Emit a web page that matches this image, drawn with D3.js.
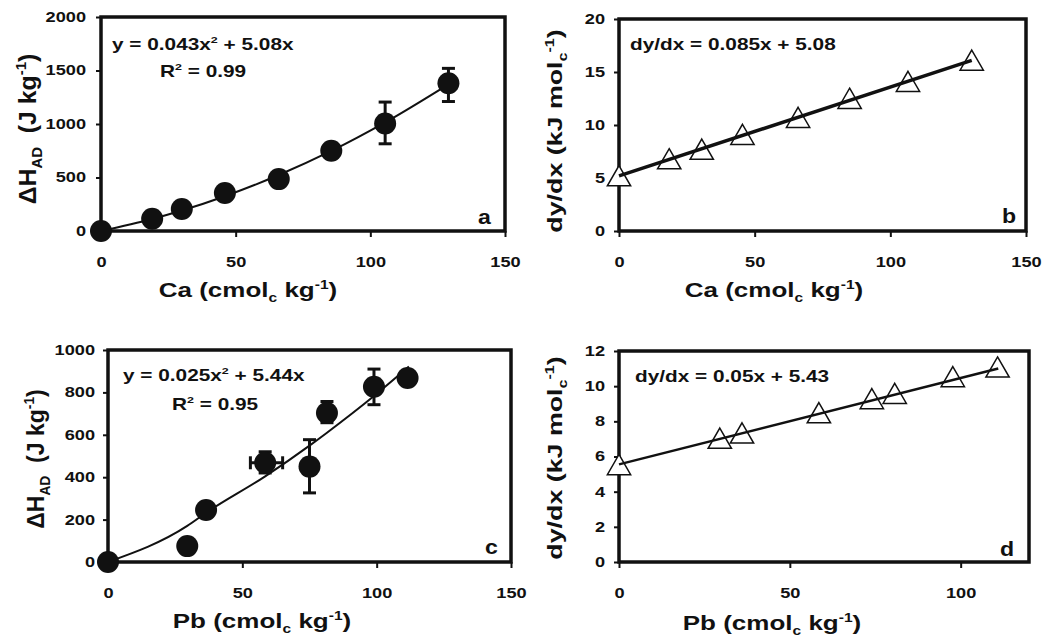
<!DOCTYPE html>
<html><head><meta charset="utf-8">
<script src="https://cdn.jsdelivr.net/npm/d3@7"></script>
<style>body{margin:0;background:#fff}svg{display:block}text{font-family:"Liberation Sans",Arial,sans-serif;font-weight:bold;fill:#111}</style>
</head><body><svg id="c" width="1044" height="642"></svg>
<script>
// Panel a: Ca, Delta H_AD
const caX = [0, 19, 30, 46, 66, 85.5, 105.5, 129];
const caH = [0, 115, 205, 355, 485, 750, 1005, 1380];
const caHErrLo = [null, null, null, null, null, null, 815, 1210];
const caHErrHi = [null, null, null, null, null, null, 1205, 1520];
const caFitX = [0, 19, 30, 46, 66, 85.5, 105.5, 129];
const caFitY = [0, 112, 191, 325, 523, 748, 1015, 1371];
// Panel b: Ca, dy/dx
const caDX = [0, 18.5, 30.5, 45.5, 66, 85, 106.5, 130];
const caD = [4.9, 6.5, 7.4, 8.8, 10.4, 12.2, 13.8, 15.8];
const caLineX = [0, 130];
const caLineY = [5.2, 16.1];
// Panel c: Pb, Delta H_AD
const pbX = [0, 29.5, 36.5, 58.5, 75, 81.5, 99, 111.5];
const pbH = [0, 75, 245, 468, 450, 703, 827, 868];
const pbHErrLo = [null, null, null, 420, 326, 657, 742, null];
const pbHErrHi = [null, null, null, 520, 577, 757, 910, null];
const pbXErrLo = [null, null, null, 53, null, null, null, null];
const pbXErrHi = [null, null, null, 65, null, null, null, null];
const pbFitX = [0, 29.5, 36.5, 58.5, 75, 81.5, 99, 112];
const pbFitY = [0, 170, 232, 404, 549, 610, 783, 922];
// Panel d: Pb, dy/dx
const pbDX = [0, 29.5, 36, 58.5, 74, 80.7, 97.7, 110.8];
const pbD = [5.35, 6.85, 7.15, 8.3, 9.1, 9.4, 10.35, 10.9];
const pbLineX = [0, 111];
const pbLineY = [5.55, 11.0];
// tick labels
const ticksX150 = [0, 50, 100, 150];
const ticksX120 = [0, 50, 100];
const ticksYa = [0, 500, 1000, 1500, 2000];
const ticksYb = [0, 5, 10, 15, 20];
const ticksYc = [0, 200, 400, 600, 800, 1000];
const ticksYd = [0, 2, 4, 6, 8, 10, 12];

const SX = 1.3; // horizontal stretch of the lettering in the reference
const svg = d3.select("#c");

function panel(o){
  const x = d3.scaleLinear().domain(o.xd).range([o.x0, o.x1]);
  const y = d3.scaleLinear().domain(o.yd).range([o.y0, o.y1]);
  const g = svg.append("g");
  const ax = g.append("g").attr("transform",`translate(0,${o.y0})`)
    .call(d3.axisBottom(x).tickValues(o.xt).tickSize(6).tickPadding(20).tickFormat(d3.format("d")));
  const ay = g.append("g").attr("transform",`translate(${o.x0},0)`)
    .call(d3.axisLeft(y).tickValues(o.yt).tickSize(5).tickFormat(d3.format("d")));
  [ax, ay].forEach(a=>{
    a.select(".domain").remove();
    a.selectAll("line").attr("stroke","#111").attr("stroke-width",2);
    a.selectAll("text").style("font-size","14px").style("font-weight","bold").attr("fill","#111");
  });
  ax.selectAll("text").attr("transform",`scale(${SX},1)`);
  ay.selectAll("text").attr("x",-o.ypad/SX).attr("transform",`scale(${SX},1)`);
  g.append("rect").attr("x",o.x0).attr("y",o.y1).attr("width",o.x1-o.x0).attr("height",o.y0-o.y1)
    .attr("fill","none").attr("stroke","#111").attr("stroke-width",3.5);
  const ld = o.lx.map((v,i)=>[v,o.ly[i]]);
  const pts = o.px.map((v,i)=>({x:v,y:o.py[i],lo:o.elo?o.elo[i]:null,hi:o.ehi?o.ehi[i]:null,
    xlo:o.xlo?o.xlo[i]:null,xhi:o.xhi?o.xhi[i]:null}));
  const cap = 6.5;
  if(o.marker==="circle"){
    g.append("path").datum(ld).attr("d",d3.line().x(d=>x(d[0])).y(d=>y(d[1])).curve(d3.curveMonotoneX))
      .attr("fill","none").attr("stroke","#111").attr("stroke-width",o.lw);
    pts.forEach(p=>{
      if(p.lo!=null){
        g.append("line").attr("x1",x(p.x)).attr("x2",x(p.x)).attr("y1",y(p.lo)).attr("y2",y(p.hi)).attr("stroke","#111").attr("stroke-width",3);
        [p.lo,p.hi].forEach(v=>g.append("line").attr("x1",x(p.x)-cap).attr("x2",x(p.x)+cap).attr("y1",y(v)).attr("y2",y(v)).attr("stroke","#111").attr("stroke-width",3));
      }
      if(p.xlo!=null){
        g.append("line").attr("x1",x(p.xlo)).attr("x2",x(p.xhi)).attr("y1",y(p.y)).attr("y2",y(p.y)).attr("stroke","#111").attr("stroke-width",3);
        [p.xlo,p.xhi].forEach(v=>g.append("line").attr("x1",x(v)).attr("x2",x(v)).attr("y1",y(p.y)-cap).attr("y2",y(p.y)+cap).attr("stroke","#111").attr("stroke-width",3));
      }
    });
    g.selectAll("circle.p").data(pts).join("circle").attr("class","p").attr("cx",d=>x(d.x)).attr("cy",d=>y(d.y)).attr("r",11).attr("fill","#111");
  } else {
    const tri = d3.symbol().type(d3.symbolTriangle).size(235);
    g.selectAll("path.p").data(pts).join("path").attr("class","p").attr("d",tri)
      .attr("transform",d=>`translate(${x(d.x)},${y(d.y)})`).attr("fill","#fff").attr("stroke","#111").attr("stroke-width",1.5);
    g.append("path").datum(ld).attr("d",d3.line().x(d=>x(d[0])).y(d=>y(d[1])))
      .attr("fill","none").attr("stroke","#111").attr("stroke-width",o.lw);
  }
  return {x,y,g};
}

function label(x, y, parts, size, opt){
  opt = opt || {};
  const sx = opt.sx || SX;
  const g = svg.append("g").attr("transform",`translate(${x},${y})${opt.rot?" rotate(-90)":""} scale(${sx},1)`);
  const t = g.append("text").attr("x",0).attr("y",0).style("font-size",size+"px").attr("text-anchor",opt.anchor||"start");
  if(opt.weight) t.style("font-weight",opt.weight);
  parts.forEach(p=>{
    const s = t.append("tspan").text(p.t);
    if(p.sup){ s.attr("dy",-size*0.42).style("font-size",(size*0.6)+"px"); t.append("tspan").attr("dy",size*0.42).text("\u200b"); }
    if(p.sub){ s.attr("dy",size*0.25).style("font-size",(size*0.6)+"px"); t.append("tspan").attr("dy",-size*0.25).text("\u200b"); }
  });
  return t;
}

panel({xd:[0,150],yd:[0,2000],x0:101,x1:505,y0:231,y1:17,xt:ticksX150,yt:ticksYa,ypad:15,
  px:caX,py:caH,elo:caHErrLo,ehi:caHErrHi,lx:caFitX,ly:caFitY,lw:2,marker:"circle"});
panel({xd:[0,150],yd:[0,20],x0:619,x1:1026,y0:231,y1:19,xt:ticksX150,yt:ticksYb,ypad:14,
  px:caDX,py:caD,lx:caLineX,ly:caLineY,lw:3.5,marker:"tri"});
panel({xd:[0,150],yd:[0,1000],x0:108,x1:511,y0:562,y1:350,xt:ticksX150,yt:ticksYc,ypad:13,
  px:pbX,py:pbH,elo:pbHErrLo,ehi:pbHErrHi,xlo:pbXErrLo,xhi:pbXErrHi,lx:pbFitX,ly:pbFitY,lw:2,marker:"circle"});
panel({xd:[0,120],yd:[0,12],x0:619,x1:1029,y0:562,y1:351,xt:ticksX120,yt:ticksYd,ypad:14,
  px:pbDX,py:pbD,lx:pbLineX,ly:pbLineY,lw:2.5,marker:"tri"});

// annotations
label(112,50,[{t:"y = 0.043x"},{t:"2",sup:1},{t:" + 5.08x"}],16);
label(160,77,[{t:"R"},{t:"2",sup:1},{t:" = 0.99"}],16);
label(630,50,[{t:"dy/dx = 0.085x + 5.08"}],16);
label(123,381,[{t:"y = 0.025x"},{t:"2",sup:1},{t:" + 5.44x"}],16);
label(172,410,[{t:"R"},{t:"2",sup:1},{t:" = 0.95"}],16);
label(635,382,[{t:"dy/dx = 0.05x + 5.43"}],16);
label(478,224,[{t:"a"}],21,{sx:1.1});
label(1002,223,[{t:"b"}],21,{sx:1.1});
label(485,554,[{t:"c"}],21,{sx:1.1});
label(1000,556,[{t:"d"}],21,{sx:1.1});

// axis titles
label(248,297,[{t:"Ca (cmol"},{t:"c",sub:1},{t:" kg"},{t:"-1",sup:1},{t:")"}],20,{anchor:"middle"});
label(774,297,[{t:"Ca (cmol"},{t:"c",sub:1},{t:" kg"},{t:"-1",sup:1},{t:")"}],20,{anchor:"middle"});
label(262,628,[{t:"Pb (cmol"},{t:"c",sub:1},{t:" kg"},{t:"-1",sup:1},{t:")"}],20,{anchor:"middle"});
label(772,630,[{t:"Pb (cmol"},{t:"c",sub:1},{t:" kg"},{t:"-1",sup:1},{t:")"}],20,{anchor:"middle"});
label(36,129,[{t:"\u0394H"},{t:"AD",sub:1},{t:"\u00a0\u00a0(J kg"},{t:"-1",sup:1},{t:")"}],23,{anchor:"middle",rot:1,sx:1.08});
label(44,459,[{t:"\u0394H"},{t:"AD",sub:1},{t:"\u00a0\u00a0(J kg"},{t:"-1",sup:1},{t:")"}],23,{anchor:"middle",rot:1,sx:1.0});
label(562,131,[{t:"dy/dx (kJ mol"},{t:"c",sub:1},{t:"-1",sup:1},{t:")"}],20,{anchor:"middle",rot:1,sx:1.34});
label(562,458,[{t:"dy/dx (kJ mol"},{t:"c",sub:1},{t:"-1",sup:1},{t:")"}],20,{anchor:"middle",rot:1,sx:1.34});
</script></body></html>
